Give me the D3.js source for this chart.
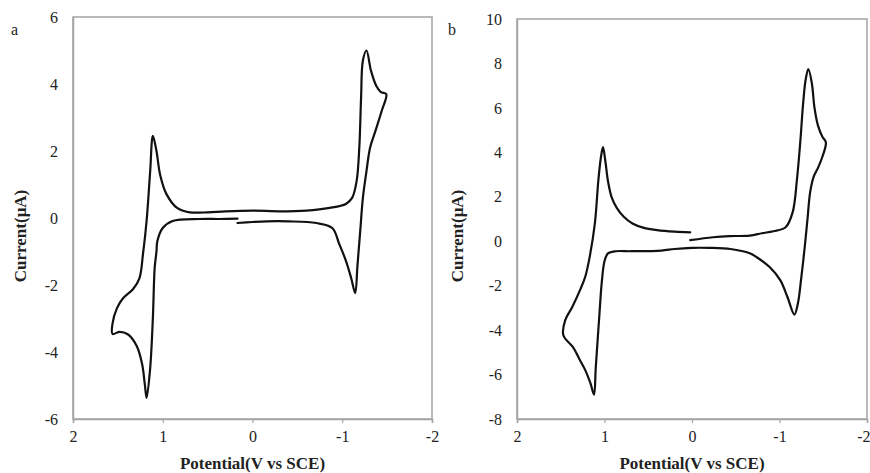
<!DOCTYPE html>
<html>
<head>
<meta charset="utf-8">
<script src="https://cdn.jsdelivr.net/npm/d3@7"></script>
<style>
  html, body { margin: 0; padding: 0; background: #fff; }
  svg { display: block; }
  svg text { font-family: "Liberation Serif", "Times New Roman", serif !important; fill: #222; }
</style>
</head>
<body>
<svg id="chart" width="870" height="473"></svg>
<script>
// ---------- Data ----------
const xTicks = [2, 1, 0, -1, -2];
const yTicksA = [-6, -4, -2, 0, 2, 4, 6];
const yTicksB = [-8, -6, -4, -2, 0, 2, 4, 6, 8, 10];
const xTitle = "Potential(V vs SCE)";
const yTitle = "Current(\u03bcA)";

// Panel a: potential (V vs SCE) and current (µA), traced in scan order
const potentialA = [0.167, 0.0, -0.156, -0.4, -0.711, -0.889, -0.967, -1.044, -1.1, -1.144,
  -1.17, -1.2, -1.23, -1.27, -1.31, -1.37, -1.44, -1.49,
  -1.43, -1.38, -1.32, -1.27, -1.23, -1.21, -1.19, -1.16, -1.11, -1.04, -0.86, -0.6, -0.3, 0.0, 0.3,
  0.5, 0.7, 0.84, 0.96, 1.03, 1.07, 1.11, 1.14, 1.18, 1.22, 1.26, 1.33, 1.44, 1.51, 1.56, 1.56,
  1.48, 1.39, 1.29, 1.23, 1.2, 1.18, 1.14, 1.11, 1.09, 1.07, 1.06, 1.0, 0.89, 0.59, 0.37, 0.167];
const currentA = [-0.15, -0.12, -0.1, -0.1, -0.15, -0.3, -0.78, -1.3, -1.8, -2.24,
  -1.4, -0.4, 0.6, 1.4, 2.1, 2.6, 3.2, 3.7,
  3.76, 3.94, 4.4, 5.0, 4.7, 3.6, 2.1, 1.1, 0.6, 0.42, 0.3, 0.22, 0.2, 0.22, 0.2,
  0.17, 0.17, 0.3, 0.72, 1.3, 2.0, 2.45, 1.4, -0.09, -1.07, -1.8, -2.12, -2.39, -2.69, -3.16, -3.46,
  -3.4, -3.47, -3.82, -4.36, -4.96, -5.37, -4.48, -2.98, -1.49, -1.0, -0.69, -0.3, -0.09, -0.03, -0.03, -0.02];

// Panel b
const potentialB = [0.02, -0.24, -0.43, -0.66, -0.8, -0.93, -1.07, -1.15, -1.2, -1.24, -1.27, -1.3, -1.33,
  -1.37, -1.4, -1.44, -1.49, -1.53,
  -1.49, -1.44, -1.39, -1.35, -1.32, -1.29, -1.25, -1.21, -1.17,
  -1.09, -1.01, -0.89, -0.74, -0.66, -0.44, -0.2, 0.0, 0.2, 0.35, 0.7, 0.87, 0.96, 1.0, 1.03, 1.06, 1.1, 1.12,
  1.16, 1.22, 1.28, 1.36, 1.47,
  1.45, 1.37, 1.28, 1.22, 1.17, 1.11, 1.07, 1.04, 1.017,
  0.99, 0.96, 0.92, 0.86, 0.78, 0.68, 0.55, 0.4, 0.2, 0.02];
const currentB = [0.05, 0.18, 0.23, 0.25, 0.36, 0.45, 0.63, 1.3, 2.8, 4.6, 6.2, 7.3, 7.75,
  7.1, 6.0, 5.2, 4.7, 4.45,
  3.8, 3.3, 2.9, 2.2, 1.0, -0.2, -1.6, -2.8, -3.3,
  -2.5, -1.76, -1.17, -0.72, -0.54, -0.35, -0.3, -0.3, -0.35, -0.42, -0.45, -0.45, -0.55, -0.9, -1.8, -3.4, -5.7, -6.9,
  -6.4, -5.8, -5.36, -4.77, -4.23,
  -3.56, -2.97, -2.2, -1.6, -0.72, 0.8, 2.75, 3.8, 4.23,
  3.6, 2.7, 2.0, 1.5, 1.1, 0.8, 0.6, 0.5, 0.43, 0.4];

// ---------- Drawing ----------
const svg = d3.select("#chart");
const axisColor = "#a3a3a3";
const fmt = d => d < 0 ? "-" + Math.abs(d) : String(d);

function panel(cfg) {
  const g = svg.append("g");
  const x = d3.scaleLinear().domain([2, -2]).range([cfg.left, cfg.right]);
  const y = d3.scaleLinear().domain(cfg.yDomain).range([cfg.bottom, cfg.top]);

  // frame
  g.append("rect")
    .attr("x", cfg.left).attr("y", cfg.top)
    .attr("width", cfg.right - cfg.left).attr("height", cfg.bottom - cfg.top)
    .attr("fill", "none").attr("stroke", axisColor).attr("stroke-width", 1.5);

  // x axis
  const xa = g.append("g").attr("transform", `translate(0,${cfg.bottom})`)
    .call(d3.axisBottom(x).tickValues(xTicks).tickSize(4).tickPadding(8).tickFormat(fmt));
  xa.attr("font-family", null);
  xa.select(".domain").attr("stroke", axisColor).attr("stroke-width", 1.5);
  xa.selectAll(".tick line").attr("stroke", axisColor).attr("stroke-width", 1.2);
  xa.selectAll(".tick text").attr("font-size", 16).style("fill", "#222");
  if (cfg.nudgeLast) {
    xa.selectAll(".tick text").filter(d => d === -2).attr("text-anchor", "end").attr("dx", 3);
  }

  // y axis
  const ya = g.append("g").attr("transform", `translate(${cfg.left},0)`)
    .call(d3.axisLeft(y).tickValues(cfg.yTicks).tickSize(0).tickPadding(15).tickFormat(fmt));
  ya.attr("font-family", null);
  ya.select(".domain").attr("stroke", axisColor).attr("stroke-width", 1.5);
  ya.selectAll(".tick text").attr("font-size", 16).style("fill", "#222");

  // curve
  const pts = cfg.v.map((v, i) => [v, cfg.c[i]]);
  g.append("path")
    .datum(pts)
    .attr("fill", "none").attr("stroke", "#111").attr("stroke-width", 2.2)
    .attr("stroke-linejoin", "round").attr("stroke-linecap", "round")
    .attr("d", d3.line().x(d => x(d[0])).y(d => y(d[1])).curve(d3.curveCatmullRom.alpha(0.5)));

  // titles
  g.append("text").attr("x", x(0)).attr("y", 469)
    .attr("text-anchor", "middle").attr("font-size", 17).attr("font-weight", "bold")
    .text(xTitle);
  g.append("text")
    .attr("transform", `translate(${cfg.yTitleX},236) rotate(-90)`)
    .attr("text-anchor", "middle").attr("font-size", 17).attr("font-weight", "bold")
    .text(yTitle);
  g.append("text").attr("x", cfg.labelX).attr("y", 35).attr("font-size", 16).text(cfg.label);
}

panel({ left: 73, right: 432, top: 17, bottom: 419, yDomain: [-6, 6], yTicks: yTicksA,
  v: potentialA, c: currentA, yTitleX: 26, label: "a", labelX: 11, nudgeLast: false });
panel({ left: 517, right: 867, top: 19, bottom: 419, yDomain: [-8, 10], yTicks: yTicksB,
  v: potentialB, c: currentB, yTitleX: 463, label: "b", labelX: 448, nudgeLast: true });
</script>
</body>
</html>
